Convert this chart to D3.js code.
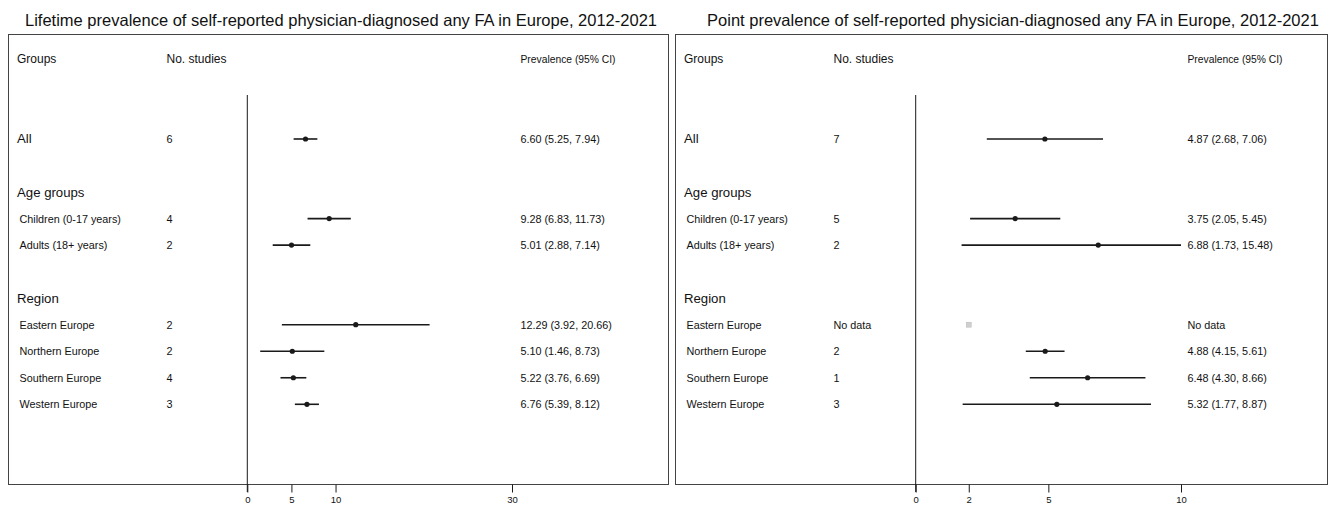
<!DOCTYPE html>
<html>
<head>
<meta charset="utf-8">
<script src="https://cdn.jsdelivr.net/npm/d3@7"></script>
<style>
  html, body { margin: 0; padding: 0; background: #fff; }
  svg { display: block; font-family: "Liberation Sans", Arial, Helvetica, sans-serif; }
</style>
</head>
<body>
<svg id="chart" width="1329" height="508"></svg>
<script>
// Subgroups, in table order; "Age groups" and "Region" are section headings.
const subgroups = ["All", "Children (0-17 years)", "Adults (18+ years)",
  "Eastern Europe", "Northern Europe", "Southern Europe", "Western Europe"];
const sectionOf = ["", "Age groups", "Age groups", "Region", "Region", "Region", "Region"];

// Lifetime prevalence (%)
const lifetimeN   = [6, 4, 2, 2, 2, 4, 3];
const lifetimeEst = [6.60, 9.28, 5.01, 12.29, 5.10, 5.22, 6.76];
const lifetimeLo  = [5.25, 6.83, 2.88, 3.92, 1.46, 3.76, 5.39];
const lifetimeHi  = [7.94, 11.73, 7.14, 20.66, 8.73, 6.69, 8.12];
const lifetimeTicks = [0, 5, 10, 30];

// Point prevalence (%); Eastern Europe has no studies
const pointN   = [7, 5, 2, null, 2, 1, 3];
const pointEst = [4.87, 3.75, 6.88, null, 4.88, 6.48, 5.32];
const pointLo  = [2.68, 2.05, 1.73, null, 4.15, 4.30, 1.77];
const pointHi  = [7.06, 5.45, 15.48, null, 5.61, 8.66, 8.87];
const pointTicks = [0, 2, 5, 10];
const noDataValue = 2;

const panels = [
  { title: "Lifetime prevalence of self-reported physician-diagnosed any FA in Europe, 2012-2021",
    n: lifetimeN, est: lifetimeEst, lo: lifetimeLo, hi: lifetimeHi, ticks: lifetimeTicks,
    left: 8, right: 669, titleX: 341, axisStart: 247.3, axisEnd: 512 },
  { title: "Point prevalence of self-reported physician-diagnosed any FA in Europe, 2012-2021",
    n: pointN, est: pointEst, lo: pointLo, hi: pointHi, ticks: pointTicks,
    left: 675, right: 1328, titleX: 1013, axisStart: 915.7, axisEnd: 1181 }
];

// Table rows: header, spacing, "All", then each section with its heading
const rowKeys = ["__header", "__gap0", "__gap1"];
let lastSection = null;
subgroups.forEach((g, i) => {
  if (sectionOf[i] !== lastSection) {
    if (sectionOf[i] !== "") { rowKeys.push("__gap" + rowKeys.length); rowKeys.push("§" + sectionOf[i]); }
    lastSection = sectionOf[i];
  }
  rowKeys.push(g);
});
while (rowKeys.length < 16) rowKeys.push("__gap" + rowKeys.length);

const boxTop = 34, boxBottom = 484;
const rowStep = 26.53;
const y = d3.scalePoint().domain(rowKeys).range([59.4, 59.4 + rowStep * (rowKeys.length - 1)]);

const svg = d3.select("#chart");
const ink = "#1a1a1a";
const bodySize = 10.8;

panels.forEach(p => {
  const g = svg.append("g");
  const x = d3.scaleLinear().domain([0, d3.max(p.ticks)]).range([p.axisStart, p.axisEnd]);
  const xMax = x.domain()[1];

  g.append("text")
    .attr("x", p.titleX).attr("y", 20)
    .attr("text-anchor", "middle").attr("dominant-baseline", "central")
    .attr("font-size", 16.5).attr("fill", "#111")
    .text(p.title);

  g.append("rect")
    .attr("x", p.left + 0.5).attr("y", boxTop + 0.5)
    .attr("width", p.right - p.left - 1).attr("height", boxBottom - boxTop)
    .attr("fill", "none").attr("stroke", "#444").attr("stroke-width", 1);

  const colGroup = p.left + 9, colN = p.left + 158.5, colCI = p.left + 512.5;

  // header row
  const head = [["Groups", colGroup, 12], ["No. studies", colN, 12], ["Prevalence (95% CI)", colCI, 10.3]];
  head.forEach(([t, cx, fs]) => {
    g.append("text").attr("x", cx).attr("y", y("__header"))
      .attr("dominant-baseline", "central").attr("font-size", fs).attr("fill", "#111").text(t);
  });

  // section headings
  [...new Set(sectionOf.filter(s => s))].forEach(s => {
    g.append("text").attr("x", colGroup).attr("y", y("§" + s))
      .attr("dominant-baseline", "central").attr("font-size", 13.2).attr("fill", "#111").text(s);
  });

  // reference line at zero
  g.append("line")
    .attr("x1", x(0)).attr("x2", x(0))
    .attr("y1", 95).attr("y2", boxBottom + 8)
    .attr("stroke", ink).attr("stroke-width", 1);

  subgroups.forEach((name, i) => {
    const ry = y(name);
    const isAll = sectionOf[i] === "";
    g.append("text").attr("x", isAll ? colGroup : colGroup + 2.5).attr("y", ry)
      .attr("dominant-baseline", "central").attr("font-size", isAll ? 13.2 : bodySize)
      .attr("fill", "#111").text(name);
    g.append("text").attr("x", colN).attr("y", ry)
      .attr("dominant-baseline", "central").attr("font-size", bodySize).attr("fill", "#111")
      .text(p.n[i] == null ? "No data" : p.n[i]);

    if (p.est[i] == null) {
      g.append("rect")
        .attr("x", x(noDataValue) - 2.5).attr("y", ry - 2.5)
        .attr("width", 5).attr("height", 5)
        .attr("fill", "#cfcfcf").attr("stroke", "#bbb").attr("stroke-width", 0.5);
      g.append("text").attr("x", colCI).attr("y", ry)
        .attr("dominant-baseline", "central").attr("font-size", bodySize).attr("fill", "#111")
        .text("No data");
      return;
    }

    g.append("line")
      .attr("x1", x(p.lo[i])).attr("x2", x(Math.min(p.hi[i], xMax)))
      .attr("y1", ry).attr("y2", ry)
      .attr("stroke", ink).attr("stroke-width", 1.6);
    g.append("circle")
      .attr("cx", x(p.est[i])).attr("cy", ry).attr("r", 2.6)
      .attr("fill", ink);
    g.append("text").attr("x", colCI).attr("y", ry)
      .attr("dominant-baseline", "central").attr("font-size", bodySize).attr("fill", "#111")
      .text(`${p.est[i].toFixed(2)} (${p.lo[i].toFixed(2)}, ${p.hi[i].toFixed(2)})`);
  });

  // x axis along the bottom edge of the box
  const axis = d3.axisBottom(x).tickValues(p.ticks).tickSize(8).tickPadding(4)
    .tickFormat(d3.format("d"));
  const ax = g.append("g").attr("transform", `translate(0,${boxBottom + 0.5})`).call(axis);
  ax.select(".domain").remove();
  ax.selectAll(".tick line").attr("stroke", ink);
  ax.selectAll(".tick text").attr("font-size", 9.5).attr("fill", "#111")
    .attr("font-family", "'Liberation Sans', Arial, sans-serif");
});
</script>
</body>
</html>
